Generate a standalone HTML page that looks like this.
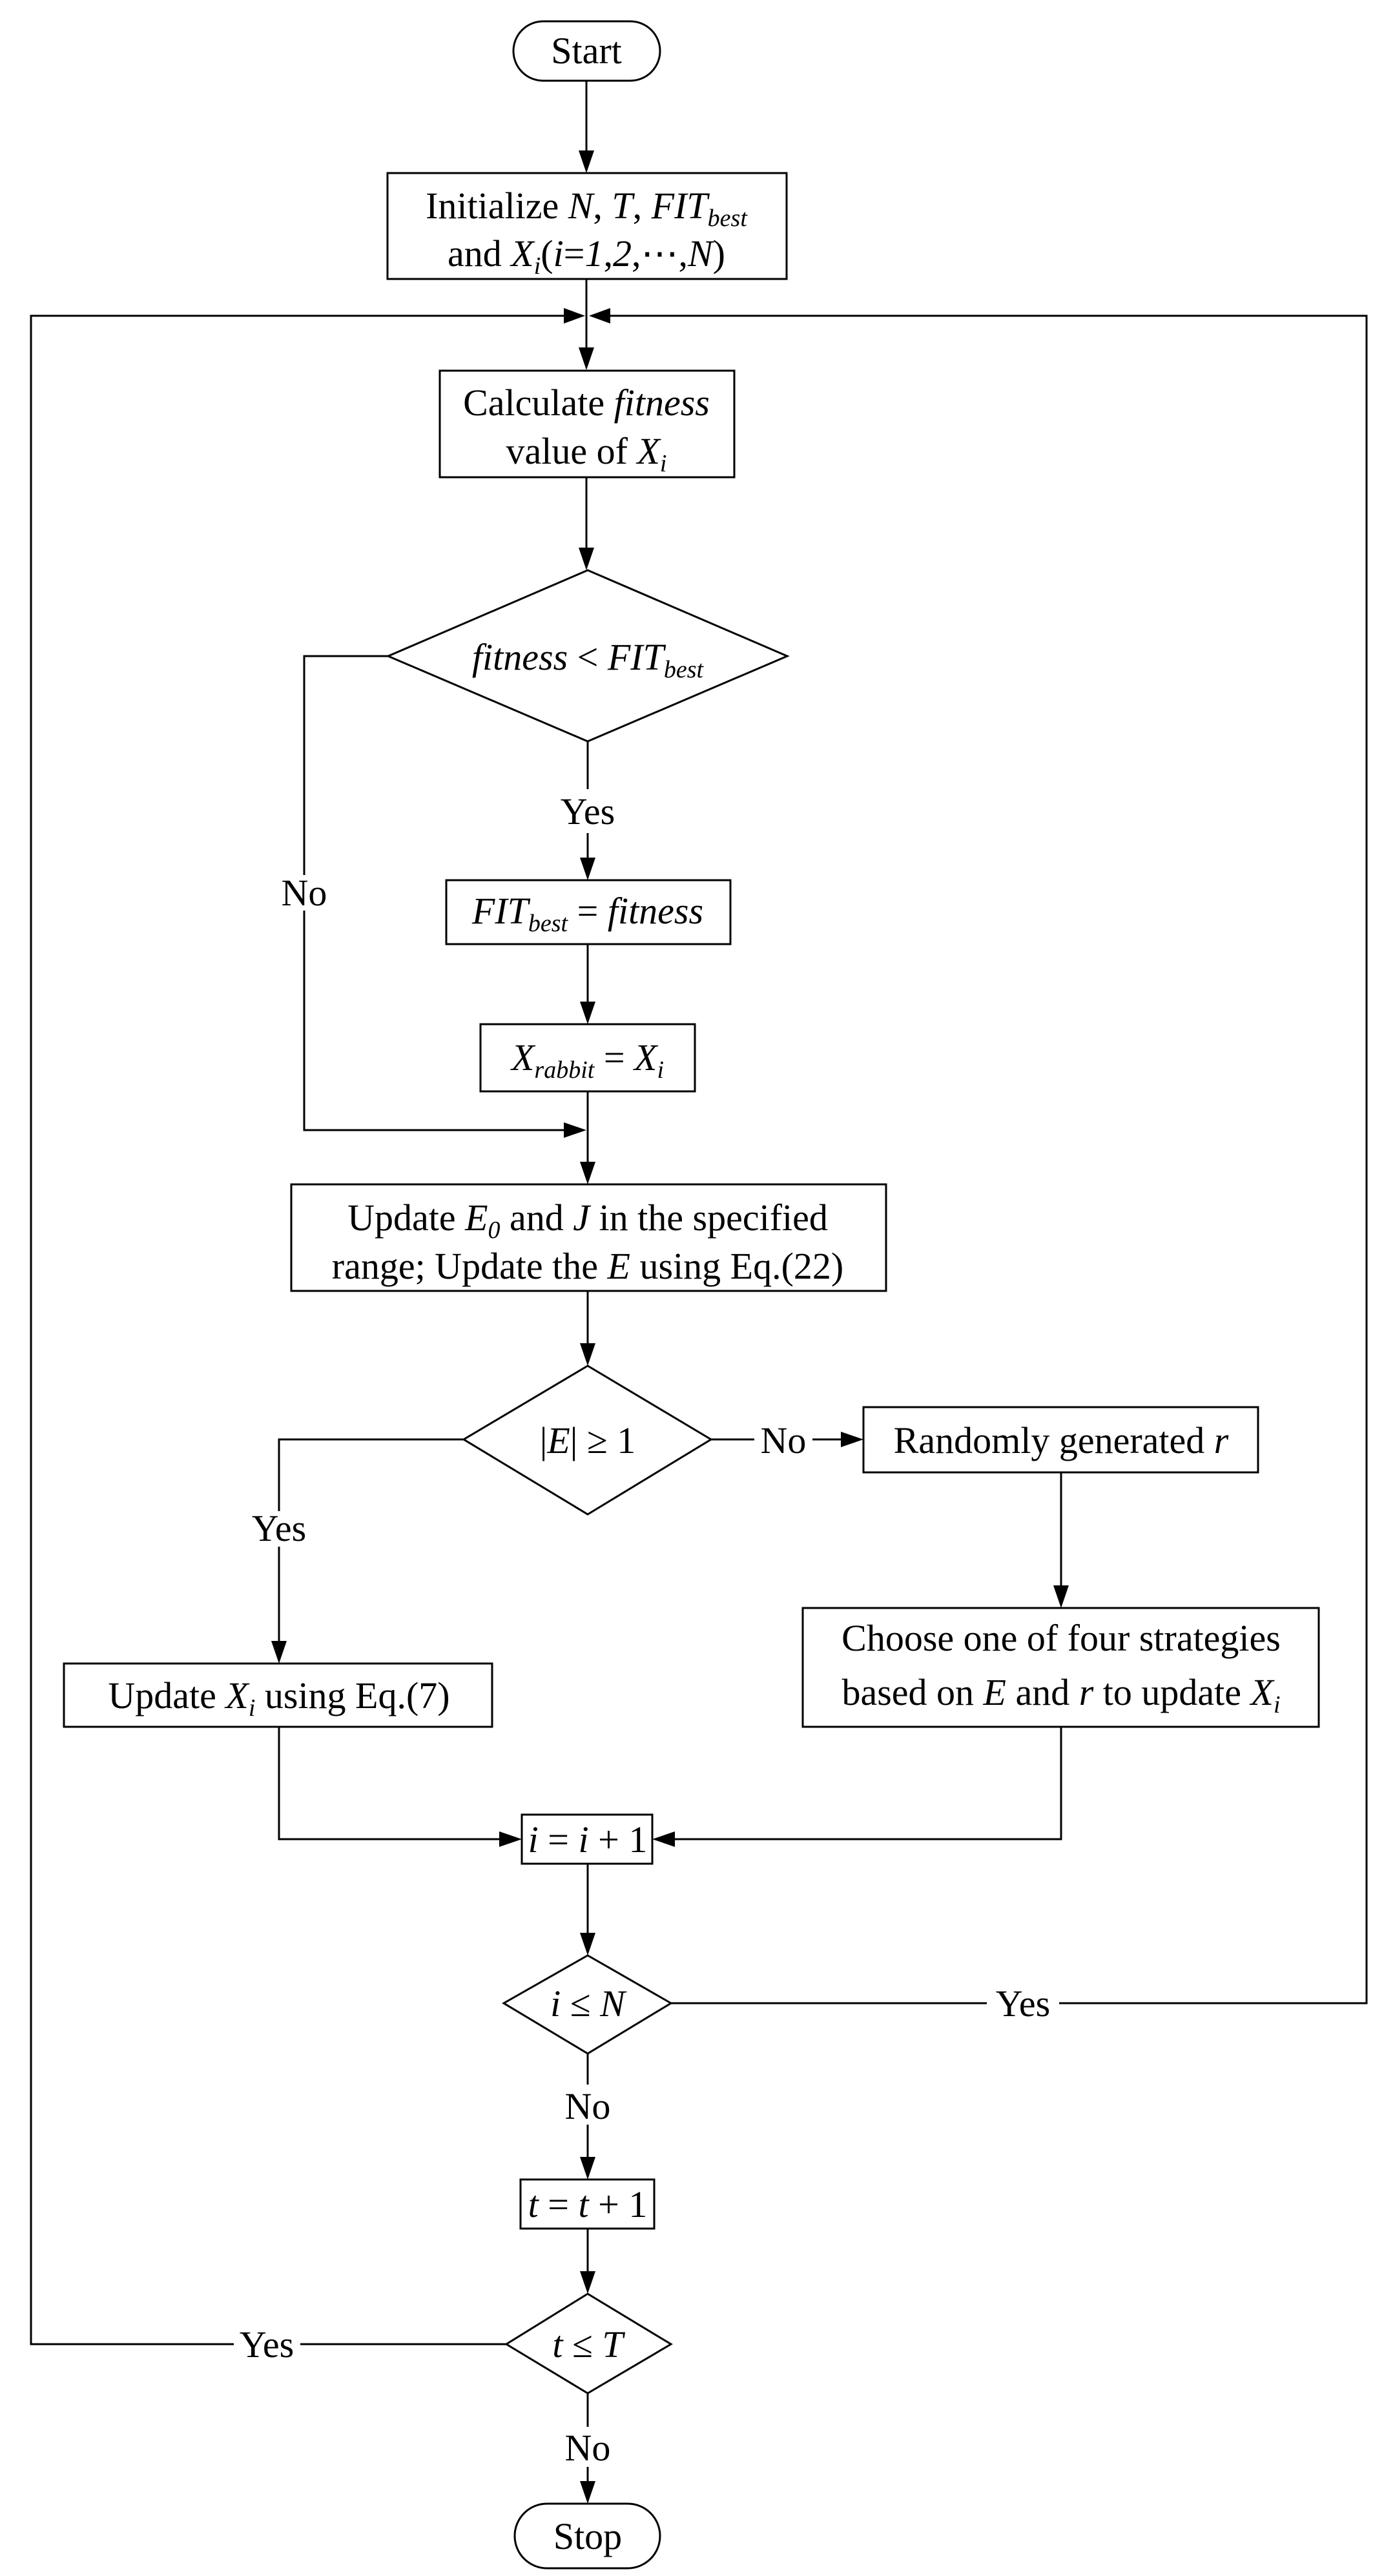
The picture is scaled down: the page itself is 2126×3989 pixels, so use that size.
<!DOCTYPE html>
<html><head><meta charset="utf-8"><style>
html,body{margin:0;padding:0;background:#fff}
svg{display:block}
text{font-family:"Liberation Serif",serif;font-size:58px;fill:#000}
.i{font-style:italic}
</style></head><body>
<svg width="2126" height="3989" viewBox="0 0 2126 3989" xmlns="http://www.w3.org/2000/svg">
<defs>
<marker id="a" markerWidth="10" markerHeight="8" refX="10" refY="4" orient="auto" markerUnits="userSpaceOnUse" viewBox="0 0 10 8" style="overflow:visible">
</marker>
</defs>
<g fill="none" stroke="#000" stroke-width="3">
<!-- shapes -->
<rect x="795" y="33" width="227" height="92" rx="46"/>
<rect x="600" y="268" width="618" height="164"/>
<rect x="681" y="574" width="456" height="165"/>
<polygon points="910,883 1219,1016 910,1148 601,1016"/>
<rect x="691" y="1363" width="440" height="99"/>
<rect x="744" y="1586" width="332" height="104"/>
<rect x="451" y="1834" width="921" height="165"/>
<polygon points="910,2115 1101,2229 910,2345 718,2229"/>
<rect x="1337" y="2179" width="611" height="101"/>
<rect x="99" y="2576" width="663" height="98"/>
<rect x="1243" y="2490" width="799" height="184"/>
<rect x="808" y="2810" width="202" height="76"/>
<polygon points="910,3028 1039,3102 910,3180 780,3102"/>
<rect x="806" y="3375" width="207" height="76"/>
<polygon points="910,3552 1039,3630 910,3706 784,3630"/>
<rect x="797" y="3877" width="225" height="100" rx="50"/>
<!-- connectors -->
<line x1="908" y1="125" x2="908" y2="235"/>
<line x1="908" y1="432" x2="908" y2="540"/>
<line x1="908" y1="739" x2="908" y2="850"/>
<line x1="910" y1="1148" x2="910" y2="1222"/>
<line x1="910" y1="1290" x2="910" y2="1330"/>
<line x1="910" y1="1462" x2="910" y2="1553"/>
<line x1="910" y1="1690" x2="910" y2="1800"/>
<polyline points="601,1016 471,1016 471,1355"/>
<polyline points="471,1410 471,1750 875,1750"/>
<line x1="910" y1="1999" x2="910" y2="2082"/>
<polyline points="718,2229 432,2229 432,2340"/>
<line x1="432" y1="2395" x2="432" y2="2542"/>
<line x1="1101" y1="2229" x2="1168" y2="2229"/>
<line x1="1258" y1="2229" x2="1303" y2="2229"/>
<line x1="1643" y1="2280" x2="1643" y2="2456"/>
<polyline points="432,2674 432,2848 774,2848"/>
<polyline points="1643,2674 1643,2848 1044,2848"/>
<line x1="910" y1="2886" x2="910" y2="2994"/>
<polyline points="1039,3102 1528,3102"/>
<polyline points="1640,3102 2116,3102 2116,489 944,489"/>
<line x1="910" y1="3180" x2="910" y2="3228"/>
<line x1="910" y1="3290" x2="910" y2="3341"/>
<line x1="910" y1="3451" x2="910" y2="3518"/>
<polyline points="784,3630 465,3630"/>
<polyline points="362,3630 48,3630 48,489 875,489"/>
<line x1="910" y1="3706" x2="910" y2="3758"/>
<line x1="910" y1="3820" x2="910" y2="3843"/>
</g>
<g fill="#000">
<polygon points="896,233 920,233 908,268"/>
<polygon points="896,538 920,538 908,573"/>
<polygon points="896,848 920,848 908,883"/>
<polygon points="898,1328 922,1328 910,1363"/>
<polygon points="898,1551 922,1551 910,1586"/>
<polygon points="873,1738 873,1762 908,1750"/>
<polygon points="898,1799 922,1799 910,1834"/>
<polygon points="898,2080 922,2080 910,2115"/>
<polygon points="420,2541 444,2541 432,2576"/>
<polygon points="1302,2217 1302,2241 1337,2229"/>
<polygon points="1631,2455 1655,2455 1643,2490"/>
<polygon points="773,2836 773,2860 808,2848"/>
<polygon points="1045,2836 1045,2860 1010,2848"/>
<polygon points="898,2993 922,2993 910,3028"/>
<polygon points="898,3340 922,3340 910,3375"/>
<polygon points="898,3517 922,3517 910,3552"/>
<polygon points="898,3842 922,3842 910,3877"/>
<polygon points="873,477 873,501 906,489"/>
<polygon points="945,477 945,501 912,489"/>
</g>
<g text-anchor="middle">
<text x="908" y="98">Start</text>
<text x="908" y="338">Initialize <tspan class="i">N</tspan>, <tspan class="i">T</tspan>, <tspan class="i">FIT</tspan><tspan class="i" font-size="38" dy="12">best</tspan></text>
<text x="908" y="412">and <tspan class="i">X</tspan><tspan class="i" font-size="38" dy="12">i</tspan><tspan dy="-12">(</tspan><tspan class="i">i</tspan>=<tspan class="i">1</tspan>,<tspan class="i">2</tspan>,⋯,<tspan class="i">N</tspan>)</text>
<text x="908" y="643">Calculate <tspan class="i">fitness</tspan></text>
<text x="908" y="718">value of  <tspan class="i">X</tspan><tspan class="i" font-size="38" dy="12">i</tspan></text>
<text x="910" y="1037"><tspan class="i">fitness</tspan> &lt; <tspan class="i">FIT</tspan><tspan class="i" font-size="38" dy="12">best</tspan></text>
<text x="910" y="1276">Yes</text>
<text x="471" y="1402">No</text>
<text x="910" y="1430"><tspan class="i">FIT</tspan><tspan class="i" font-size="38" dy="12">best</tspan><tspan dy="-12"> = </tspan><tspan class="i">fitness</tspan></text>
<text x="910" y="1657"><tspan class="i">X</tspan><tspan class="i" font-size="38" dy="12">rabbit</tspan><tspan dy="-12"> = </tspan><tspan class="i">X</tspan><tspan class="i" font-size="38" dy="12">i</tspan></text>
<text x="910" y="1905">Update <tspan class="i">E</tspan><tspan class="i" font-size="38" dy="12">0</tspan><tspan dy="-12"> and </tspan><tspan class="i">J</tspan> in the specified</text>
<text x="910" y="1980">range; Update the <tspan class="i">E</tspan> using Eq.(22)</text>
<text x="910" y="2250">|<tspan class="i">E</tspan>| ≥ 1</text>
<text x="1213" y="2250">No</text>
<text x="1643" y="2250">Randomly generated <tspan class="i">r</tspan></text>
<text x="432" y="2386">Yes</text>
<text x="432" y="2645">Update <tspan class="i">X</tspan><tspan class="i" font-size="38" dy="12">i</tspan><tspan dy="-12">  using Eq.(7)</tspan></text>
<text x="1643" y="2556">Choose one of four strategies</text>
<text x="1643" y="2640">based on <tspan class="i">E</tspan> and <tspan class="i">r</tspan> to update <tspan class="i">X</tspan><tspan class="i" font-size="38" dy="12">i</tspan></text>
<text x="910" y="2868"><tspan class="i">i</tspan> = <tspan class="i">i</tspan> + 1</text>
<text x="910" y="3122"><tspan class="i">i</tspan> ≤ <tspan class="i">N</tspan></text>
<text x="1584" y="3122">Yes</text>
<text x="910" y="3281">No</text>
<text x="910" y="3433"><tspan class="i">t</tspan> = <tspan class="i">t</tspan> + 1</text>
<text x="910" y="3650"><tspan class="i">t</tspan> ≤ <tspan class="i">T</tspan></text>
<text x="413" y="3650">Yes</text>
<text x="910" y="3810">No</text>
<text x="910" y="3947">Stop</text>
</g>
</svg>
</body></html>
